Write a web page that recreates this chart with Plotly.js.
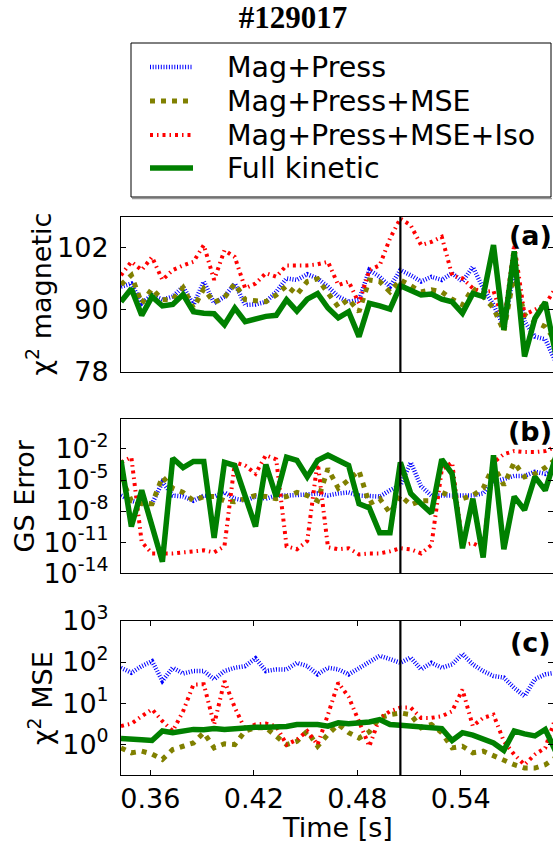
<!DOCTYPE html>
<html><head><meta charset="utf-8">
<script src="https://cdn.plot.ly/plotly-3.0.1.min.js"></script>
<style>html,body{margin:0;padding:0;background:#fff}</style>
</head><body><div id="chart" style="width:553px;height:846px"></div>
<script>
// ---- data ----
const time = [0.343,0.349,0.355,0.361,0.367,0.373,0.379,0.385,0.391,0.397,0.403,0.409,0.415,0.421,0.427,0.433,0.439,0.445,0.451,0.457,0.463,0.469,0.475,0.481,0.487,0.493,0.499,0.505,0.511,0.517,0.523,0.529,0.535,0.541,0.547,0.553,0.559,0.565,0.571,0.577,0.583,0.589,0.595];
const seriesNames = ['Mag+Press','Mag+Press+MSE','Mag+Press+MSE+Iso','Full kinetic'];
const eventTime = [0.505];
const panelLabels = ['(a)','(b)','(c)'];
const yTitles = ['χ<sup>2</sup> magnetic','GS Error','χ<sup>2</sup> MSE'];
const xTitle = 'Time [s]';
const chartTitle = '<b>#129017</b>';
const xTickVals = [0.36,0.42,0.48,0.54];
const xTickText = ['0.36','0.42','0.48','0.54'];
const magTickVals = [78,90,102];
const gsTickVals = [1e-2,1e-5,1e-8,1e-11,1e-14];
const gsTickText = ['10<sup>-2</sup>','10<sup>-5</sup>','10<sup>-8</sup>','10<sup>-11</sup>','10<sup>-14</sup>'];
const mseTickVals = [1,10,100,1000];
const mseTickText = ['10<sup>0</sup>','10<sup>1</sup>','10<sup>2</sup>','10<sup>3</sup>'];

// (a) chi^2 magnetic
const chi2Mag_MagPress     = [94.4,95.0,91.2,92.8,91.9,92.5,94.4,90.9,95.4,91.2,92.5,95.0,90.9,91.0,91.5,93.4,96.0,95.7,96.8,96.0,94.4,92.5,91.5,91.9,97.6,96.3,94.4,97.6,96.6,95.4,96.3,95.7,97.0,95.4,98.2,94.1,90.9,86.7,97.6,87.7,84.8,84.3,80.0];
const chi2Mag_MagPressMSE  = [94.8,96.6,91.2,94.0,91.9,92.0,94.2,90.3,94.0,91.4,92.3,95.0,91.9,91.7,91.5,92.8,94.6,92.9,95.4,95.9,93.1,90.5,92.0,89.6,95.7,95.4,93.4,95.7,94.6,93.4,93.8,93.4,92.0,90.9,94.1,92.5,90.3,85.8,97.0,89.0,87.7,86.7,84.0];
const chi2Mag_MagPressMSEIso = [96.6,99.2,97.6,100.1,95.7,97.6,98.5,99.2,102.4,95.7,101.4,100.1,94.1,95.0,97.0,96.3,98.5,98.5,98.5,98.7,99.2,94.7,95.4,91.2,97.6,98.5,103.7,107.5,106.2,102.4,103.0,104.0,96.6,96.0,94.1,93.4,93.6,87.5,102.5,89.0,90.0,91.0,94.1];
const chi2Mag_FullKinetic  = [91.5,94.0,88.9,92.5,90.7,91.0,92.9,89.6,89.3,89.2,87.1,90.3,87.7,88.3,88.7,88.9,91.9,89.7,92.0,93.1,90.3,88.4,89.6,84.8,91.2,90.7,90.1,94.6,93.8,92.8,93.0,92.0,91.5,89.3,93.1,92.5,102.4,86.1,101.2,81.0,88.3,91.4,81.5];

// (b) GS error, log10 of the value
const gsErrLog10_MagPress     = [-6.5,-7.0,-7.3,-7.3,-5.2,-6.5,-6.6,-7.0,-6.5,-6.6,-6.2,-6.8,-7.0,-6.6,-6.8,-6.5,-6.5,-6.5,-6.4,-6.3,-6.5,-6.3,-6.2,-6.5,-6.6,-6.6,-6.0,-5.5,-3.3,-5.6,-6.5,-6.5,-6.5,-6.6,-6.5,-6.3,-5.2,-4.9,-4.6,-4.6,-4.2,-4.4,-3.9];
const gsErrLog10_MagPressMSE  = [-4.7,-7.0,-7.3,-7.3,-4.7,-5.8,-6.2,-7.0,-6.6,-6.6,-7.0,-7.1,-6.8,-6.5,-6.6,-6.8,-6.6,-6.2,-6.5,-7.0,-3.9,-5.8,-5.0,-4.1,-7.3,-6.8,-8.2,-6.5,-7.4,-7.0,-7.0,-6.2,-6.6,-6.8,-6.5,-5.8,-3.6,-5.5,-3.3,-4.7,-4.4,-3.8,-3.0];
const gsErrLog10_MagPressMSEIso = [-3.3,-2.8,-11.0,-12.1,-12.1,-12.1,-12.0,-11.9,-11.8,-12.0,-11.4,-3.3,-3.6,-4.4,-2.6,-3.0,-11.4,-11.7,-10.9,-3.2,-11.5,-11.7,-11.6,-12.2,-12.1,-12.1,-11.9,-11.6,-11.7,-12.1,-11.3,-4.0,-3.3,-11.3,-11.1,-11.6,-3.3,-2.5,-2.2,-2.3,-2.3,-2.2,-1.8];
const gsErrLog10_FullKinetic  = [-3.1,-9.5,-6.0,-9.5,-12.9,-2.9,-3.8,-3.2,-3.2,-10.6,-3.3,-3.6,-6.5,-9.5,-3.5,-6.6,-2.8,-3.1,-4.7,-3.1,-2.6,-3.1,-3.6,-7.3,-7.7,-10.1,-10.1,-3.3,-6.3,-7.3,-8.2,-3.0,-4.4,-11.6,-6.8,-12.5,-2.6,-11.7,-6.6,-7.9,-4.7,-6.0,-2.8];

// (c) chi^2 MSE, log10 of the value
const mseLog10_MagPress     = [1.86,1.74,1.90,2.02,1.54,1.86,1.72,1.78,1.78,1.58,1.78,1.86,1.90,2.09,1.78,1.82,1.82,1.98,1.90,1.70,1.86,1.82,1.70,1.86,2.02,2.15,2.07,1.98,2.11,1.82,1.98,1.86,1.94,2.20,1.94,1.78,1.66,1.62,1.37,1.17,1.58,1.70,1.74];
const mseLog10_MagPressMSE  = [-0.09,-0.21,-0.17,-0.24,-0.37,-0.13,-0.05,0.03,0.28,-0.09,0.01,-0.01,0.32,0.40,0.40,0.20,-0.01,0.07,0.32,-0.05,0.24,0.48,0.28,0.15,0.30,0.64,0.72,0.76,0.72,0.40,0.48,0.28,-0.09,-0.05,-0.21,-0.17,-0.29,-0.41,-0.50,-0.58,-0.58,-0.50,-0.33];
const mseLog10_MagPressMSEIso = [0.44,0.50,0.68,0.85,0.56,0.32,0.80,1.45,1.46,0.48,1.54,0.89,0.36,0.48,0.50,0.44,-0.01,0.11,0.32,-0.01,0.72,1.50,1.15,0.56,-0.05,0.64,0.80,0.89,0.89,0.64,0.64,0.68,0.80,1.33,0.44,0.64,0.72,0.07,-0.25,-0.50,-0.25,-0.09,0.64];
const mseLog10_FullKinetic  = [0.14,0.14,0.11,0.09,0.32,0.28,0.33,0.36,0.35,0.38,0.36,0.38,0.41,0.41,0.41,0.41,0.43,0.48,0.48,0.48,0.44,0.52,0.50,0.52,0.54,0.60,0.48,0.46,0.44,0.40,0.41,0.38,0.09,0.28,0.22,0.14,0.03,-0.15,0.32,0.25,0.20,0.36,-0.17];

// ---- styles / layout geometry (pixels of the 553x846 page) ----
const FONT = 'DejaVu Sans, sans-serif';
const FS = 27;
const lineStyles = [
  {color:'#0000ff', width:4.5, dash:'1px,1.7px'},
  {color:'#808000', width:5,   dash:'5px,6px'},
  {color:'#ff0000', width:4,   dash:'3px,4px,1.5px,4px'},
  {color:'#008000', width:5.5, dash:'solid'}
];
const W = 553, H = 846, ML = 121, MR = 0, MT = 217, MB = 71;
const PW = W - ML - MR, PH = H - MT - MB;
const px = x => (x - ML) / PW;          // page x -> paper x
const py = y => (H - MB - y) / PH;      // page y -> paper y
const legendBox = {x0:131, x1:551, y0:43, y1:197};
const legendRowY = [67, 101, 135, 168];
const legendKey = {x0:150, x1:193, textX:225, fs:28.5};

const toValue = arr => arr.map(e => Math.pow(10, e));
const panels = [
  {xa:'x',  ya:'y',  series:[chi2Mag_MagPress, chi2Mag_MagPressMSE, chi2Mag_MagPressMSEIso, chi2Mag_FullKinetic]},
  {xa:'x2', ya:'y2', series:[gsErrLog10_MagPress, gsErrLog10_MagPressMSE, gsErrLog10_MagPressMSEIso, gsErrLog10_FullKinetic].map(toValue)},
  {xa:'x3', ya:'y3', series:[mseLog10_MagPress, mseLog10_MagPressMSE, mseLog10_MagPressMSEIso, mseLog10_FullKinetic].map(toValue)}
];

const traces = [];
panels.forEach((p, pi) => {
  p.series.forEach((vals, si) => {
    traces.push({
      type:'scatter', mode:'lines', x: time, y: vals,
      xaxis: p.xa, yaxis: p.ya,
      name: seriesNames[si], legendgroup: seriesNames[si], showlegend:false,
      line: lineStyles[si], hoverinfo:'skip'
    });
  });
});

const axisCommon = {
  showline:true, linecolor:'#000', linewidth:1, mirror:true,
  ticks:'inside', ticklen:5, tickwidth:1, tickcolor:'#000',
  showgrid:false, zeroline:false, automargin:false,
  tickfont:{family:FONT, size:FS, color:'#000'}
};
const xRange = [0.343, 0.5935];
const titleFont = {family:FONT, size:FS, color:'#000'};

// manual legend (box, keys, labels)
const shapes = [];
const annotations = [];
shapes.push({type:'line', xref:'paper', yref:'paper', x0:px(legendBox.x0+1), x1:px(legendBox.x1+1),
             y0:py(legendBox.y1+1.5), y1:py(legendBox.y1+1.5), line:{color:'#999', width:1.5}, layer:'above'});
shapes.push({type:'rect', xref:'paper', yref:'paper', x0:px(legendBox.x0), x1:px(legendBox.x1),
             y0:py(legendBox.y0), y1:py(legendBox.y1), line:{color:'#000', width:1}, fillcolor:'#fff', layer:'above'});
seriesNames.forEach((name, si) => {
  shapes.push({type:'line', xref:'paper', yref:'paper', x0:px(legendKey.x0), x1:px(legendKey.x1),
               y0:py(legendRowY[si]), y1:py(legendRowY[si]), line:lineStyles[si], layer:'above'});
  annotations.push({text:name, xref:'paper', yref:'paper', x:px(legendKey.textX), y:py(legendRowY[si]),
                    xanchor:'left', yanchor:'middle', showarrow:false,
                    font:{family:FONT, size:legendKey.fs, color:'#000'}});
});
// vertical event line in each panel
[['x','y'],['x2','y2'],['x3','y3']].forEach(([xa,ya]) => shapes.push({
  type:'line', xref:xa, yref:ya+' domain', x0:eventTime[0], x1:eventTime[0], y0:0, y1:1,
  line:{color:'#000', width:2.2}
}));
// panel labels
[[530,235],[530,431.5],[530,642.5]].forEach(([x,y], i) => annotations.push({
  text:panelLabels[i], xref:'paper', yref:'paper', x:px(x), y:py(y),
  showarrow:false, xanchor:'center', yanchor:'middle',
  font:{family:FONT, size:FS, color:'#000', weight:'bold'}
}));
// y axis titles
[[39,294.5],[23.5,496],[40,698]].forEach(([x,y], i) => annotations.push({
  text:yTitles[i], xref:'paper', yref:'paper', x:px(x), y:py(y), textangle:-90,
  showarrow:false, xanchor:'center', yanchor:'middle', font:titleFont
}));
// x axis title
annotations.push({text:xTitle, xref:'paper', yref:'paper', x:px(337), y:py(827),
  showarrow:false, xanchor:'center', yanchor:'middle', font:titleFont});

const layout = {
  width:W, height:H,
  margin:{l:ML, r:MR, t:MT, b:MB, pad:0, autoexpand:false},
  paper_bgcolor:'#fff', plot_bgcolor:'#fff',
  font:{family:FONT, size:FS, color:'#000'},
  title:{text:chartTitle, font:{family:'Liberation Serif, serif', size:31, color:'#000'},
         xref:'container', x:293/553, xanchor:'center', yref:'container', y:1-17/846, yanchor:'middle'},
  showlegend:false,
  xaxis: Object.assign({}, axisCommon, {anchor:'y', range:xRange, showticklabels:false, ticks:''}),
  xaxis2: Object.assign({}, axisCommon, {anchor:'y2', matches:'x', range:xRange, showticklabels:false, ticks:''}),
  xaxis3: Object.assign({}, axisCommon, {anchor:'y3', matches:'x', range:xRange, mirror:'ticks',
          tickvals:xTickVals, ticktext:xTickText, tickangle:0}),
  yaxis: Object.assign({}, axisCommon, {domain:[0.7222,1], range:[78,107.8], mirror:'ticks',
          tickvals:magTickVals, ticklabelstandoff:6}),
  yaxis2: Object.assign({}, axisCommon, {domain:[0.3615,0.638], type:'log', range:[-14.02,0.9], mirror:'ticks',
          tickvals:gsTickVals, ticktext:gsTickText, ticklabelstandoff:6}),
  yaxis3: Object.assign({}, axisCommon, {domain:[0,0.2765], type:'log', range:[-0.75,3.005], mirror:'ticks',
          tickvals:mseTickVals, ticktext:mseTickText, ticklabelstandoff:6}),
  shapes: shapes,
  annotations: annotations
};

Plotly.newPlot('chart', traces, layout, {displayModeBar:false, staticPlot:true});
</script>
</body></html>
